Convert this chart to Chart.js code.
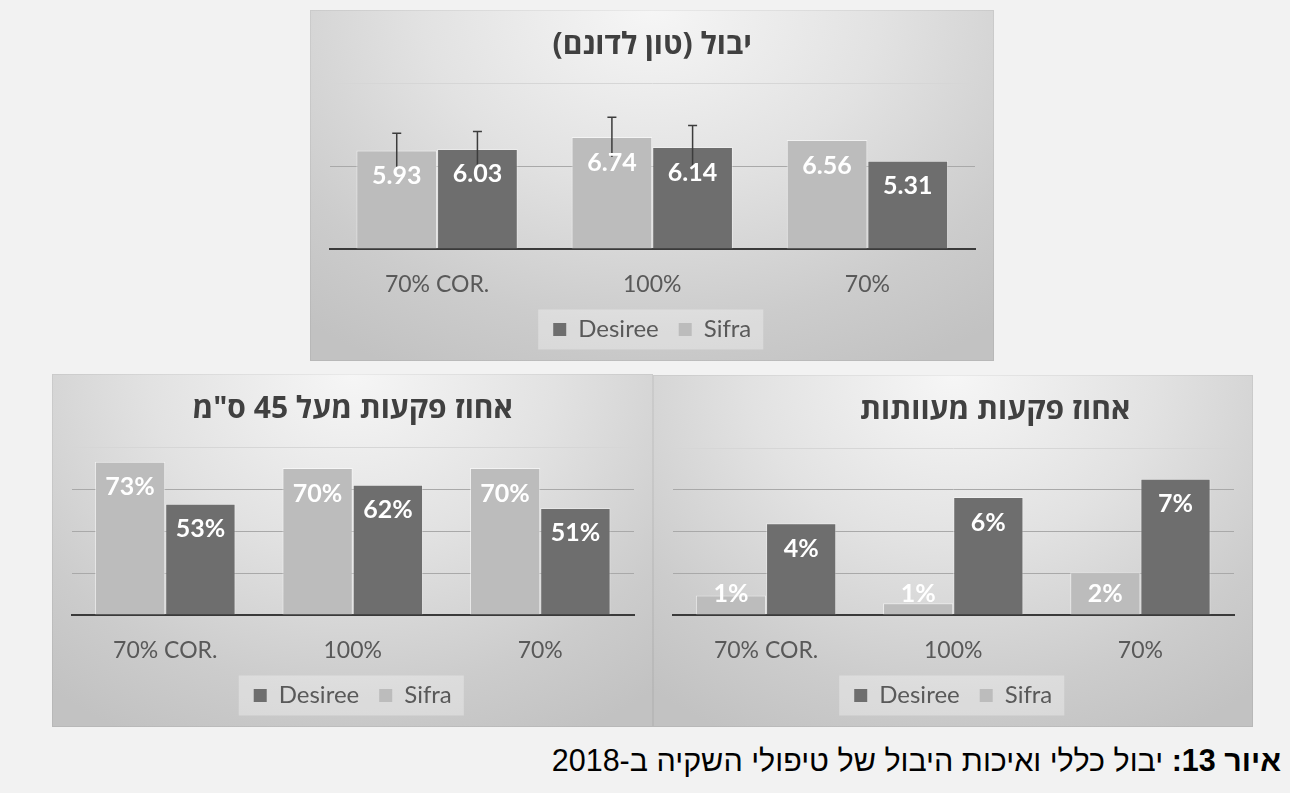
<!DOCTYPE html>
<html lang="he">
<head>
<meta charset="utf-8">
<title>יבול כללי ואיכות היבול</title>
<script src="https://cdn.jsdelivr.net/npm/chart.js@4.4.1/dist/chart.umd.min.js"></script>
<style>
  html, body { margin: 0; padding: 0; }
  body { width: 1290px; height: 793px; background: #f2f2f2; position: relative; overflow: hidden; }
  .panel {
    position: absolute;
    background: radial-gradient(ellipse 80% 115% at 50% 0%, #f6f6f6 0%, #e2e2e2 42%, #cccccc 78%, #c2c2c2 100%);
    box-shadow: inset 0 0 0 1px rgba(0,0,0,0.05);
  }
  .panel canvas { display: block; }
  #p-yield  { left: 310px; top: 10px;  width: 684px; height: 351px; }
  #p-large  { left: 52px;  top: 374px; width: 601px; height: 353px; }
  #p-deform { left: 653px; top: 375px; width: 600px; height: 352px; }
  #caption {
    position: absolute; right: 9px; top: 742px;
    direction: rtl; white-space: nowrap;
    font-family: "Liberation Sans", Arial, sans-serif; font-size: 30.5px; line-height: 36px; color: #000;
  }
  #caption b { font-weight: bold; }
</style>
</head>
<body>
<div class="panel" id="p-yield"><canvas id="c-yield" width="684" height="351"></canvas></div>
<div class="panel" id="p-large"><canvas id="c-large" width="601" height="353"></canvas></div>
<div class="panel" id="p-deform"><canvas id="c-deform" width="600" height="352"></canvas></div>
<div id="caption"><b>איור 13:</b> יבול כללי ואיכות היבול של טיפולי השקיה ב-2018</div>

<script>
// Irrigation treatments and potato varieties
const categories = ['70% COR.', '100%', '70%'];
const varietyNames = ['Sifra', 'Desiree'];

// Yield, ton per dunam
const yieldSifra = [5.93, 6.74, 6.56];
const yieldDesiree = [6.03, 6.14, 5.31];
const yieldSifraErr = [1.05, 1.2, 0];
const yieldDesireeErr = [1.05, 1.3, 0];

// Share of tubers above 45 mm
const largeSifra = [0.73, 0.70, 0.70];
const largeDesiree = [0.53, 0.62, 0.51];

// Share of deformed tubers
const deformSifra = [0.0094, 0.0056, 0.0204];
const deformDesiree = [0.0439, 0.0565, 0.0653];

// Value axis ranges (min, max, step)
const yieldAxis = [0, 10, 5];
const largeAxis = [0, 0.8, 0.2];
const deformAxis = [0, 0.08, 0.02];

const titles = {
  yield: 'יבול (טון לדונם)',
  large: 'אחוז פקעות מעל 45 ס"מ',
  deform: 'אחוז פקעות מעוותות'
};

const COLOR_SIFRA = '#bcbcbc';
const COLOR_DESIREE = '#6e6e6e';
const LATIN_FONT = "Lato, 'Open Sans', sans-serif";
const HEB_FONT = "'Open Sans', 'Liberation Sans', 'DejaVu Sans', sans-serif";
const RLM = '\u200F';

// Horizontal nudge of the chart title
const titleShift = {
  id: 'titleShift',
  afterLayout(chart, args, opts) {
    const t = chart.titleBlock;
    if (t && opts.dx) { t.left += opts.dx; t.right += opts.dx; }
  }
};

// Lighter panel behind the legend entries
const legendBackdrop = {
  id: 'legendBackdrop',
  beforeDraw(chart) {
    const boxes = chart.legend && chart.legend.legendHitBoxes;
    if (!boxes || !boxes.length) return;
    const left = Math.min(...boxes.map(b => b.left)) - 15;
    const right = Math.max(...boxes.map(b => b.left + b.width)) + 12;
    const mid = boxes[0].top + boxes[0].height / 2;
    const { ctx } = chart;
    ctx.save();
    ctx.fillStyle = 'rgba(255,255,255,0.32)';
    ctx.fillRect(left, mid - 20, right - left, 40);
    ctx.restore();
  }
};

// Error whiskers and value labels drawn on top of the bars
const barDecor = {
  id: 'barDecor',
  afterDatasetsDraw(chart, args, opts) {
    const { ctx } = chart;
    const y = chart.scales.y;
    const base = y.getPixelForValue(0);
    ctx.save();
    chart.data.datasets.forEach((ds, i) => {
      const meta = chart.getDatasetMeta(i);
      const errs = ds.errors;
      if (!errs) return;
      ctx.strokeStyle = '#3c3c3c';
      ctx.lineWidth = 1.5;
      meta.data.forEach((bar, j) => {
        const e = errs[j];
        if (!e) return;
        const top = y.getPixelForValue(ds.data[j] + e);
        const bottom = y.getPixelForValue(ds.data[j] - e);
        ctx.beginPath();
        ctx.moveTo(bar.x, top); ctx.lineTo(bar.x, bottom);
        ctx.moveTo(bar.x - 4.5, top); ctx.lineTo(bar.x + 4.5, top);
        ctx.stroke();
      });
    });
    ctx.fillStyle = '#ffffff';
    ctx.font = 'bold 25px ' + LATIN_FONT;
    ctx.textAlign = 'center';
    ctx.textBaseline = 'alphabetic';
    chart.data.datasets.forEach((ds, i) => {
      chart.getDatasetMeta(i).data.forEach((bar, j) => {
        const cy = Math.min(bar.y + 24.5, base - 22);
        ctx.fillText(opts.format(ds.data[j]), bar.x, cy + 9);
      });
    });
    ctx.restore();
  }
};

function buildChart(canvasId, title, sifra, desiree, axis, format, errors, titleDx) {
  const [min, max, step] = axis;
  const datasets = [
    { label: varietyNames[0], data: sifra, backgroundColor: COLOR_SIFRA,
      borderColor: 'rgba(255,255,255,0.55)', borderWidth: 1,
      errors: errors ? errors[0] : null },
    { label: varietyNames[1], data: desiree, backgroundColor: COLOR_DESIREE,
      borderColor: 'rgba(255,255,255,0.35)', borderWidth: 1,
      errors: errors ? errors[1] : null }
  ];
  return new Chart(document.getElementById(canvasId), {
    type: 'bar',
    data: { labels: categories, datasets },
    plugins: [titleShift, legendBackdrop, barDecor],
    options: {
      responsive: false,
      devicePixelRatio: 1,
      animation: false,
      events: [],
      layout: { padding: { left: 19.5, right: 19, top: 0, bottom: 9.5 } },
      datasets: { bar: { categoryPercentage: 0.75, barPercentage: 1 } },
      scales: {
        x: {
          offset: true,
          grid: { display: false, drawTicks: false },
          border: { display: true, color: '#3a3a3a', width: 2 },
          ticks: { color: '#595959', font: { family: LATIN_FONT, size: 23 }, padding: 22 },
          afterFit(scale) { scale.height = 48.5; }
        },
        y: {
          min, max,
          ticks: { display: false, stepSize: step },
          grid: {
            drawTicks: false,
            color: ctx => ctx.tick.value === min ? 'rgba(0,0,0,0)'
                        : (ctx.tick.value >= max - 1e-9 ? '#d6d6d6' : '#a9a9a9'),
            lineWidth: 1
          },
          border: { display: false }
        }
      },
      plugins: {
        title: {
          display: true,
          text: RLM + title + RLM,
          color: '#404040',
          font: { family: HEB_FONT, size: 30, weight: 'bold' },
          padding: { top: 17.5, bottom: 19.5 }
        },
        titleShift: { dx: titleDx || 0 },
        legend: {
          position: 'bottom',
          reverse: true,
          labels: {
            color: '#595959',
            font: { family: LATIN_FONT, size: 24 },
            boxWidth: 13, boxHeight: 13,
            padding: 20,
            generateLabels(chart) {
              const items = Chart.defaults.plugins.legend.labels.generateLabels(chart);
              items.forEach(it => { it.lineWidth = 0; it.strokeStyle = 'rgba(0,0,0,0)'; });
              return items;
            }
          }
        },
        tooltip: { enabled: false },
        barDecor: { format }
      }
    }
  });
}

const fmtTon = v => v.toFixed(2);
const fmtPct = v => Math.round(v * 100) + '%';

buildChart('c-yield', titles.yield, yieldSifra, yieldDesiree, yieldAxis, fmtTon,
           [yieldSifraErr, yieldDesireeErr], 0);
buildChart('c-large', titles.large, largeSifra, largeDesiree, largeAxis, fmtPct, null, 0);
buildChart('c-deform', titles.deform, deformSifra, deformDesiree, deformAxis, fmtPct, null, 42);
</script>
</body>
</html>
